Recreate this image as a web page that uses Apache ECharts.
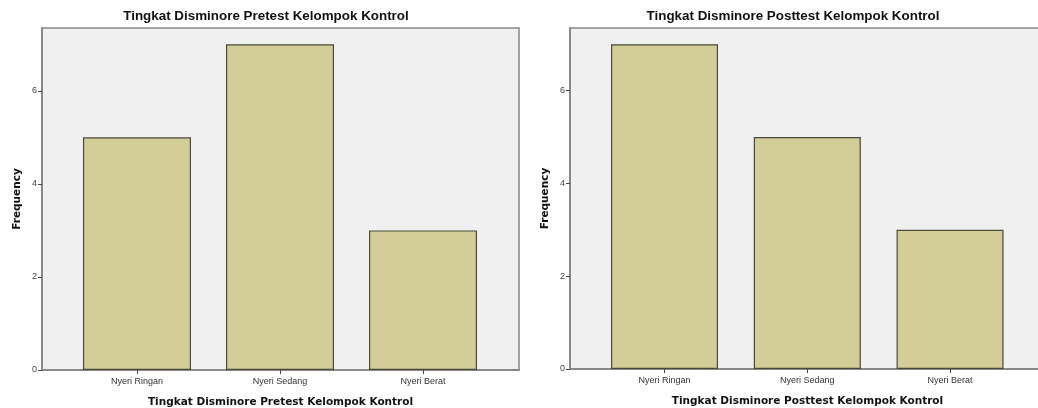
<!DOCTYPE html>
<html><head><meta charset="utf-8">
<script src="https://cdn.jsdelivr.net/npm/echarts@6/dist/echarts.min.js"></script>
<style>html,body{margin:0;padding:0;background:#fff}#c{width:1038px;height:408px}</style>
</head><body><div id="c"></div>
<script>
const categories = ["Nyeri Ringan", "Nyeri Sedang", "Nyeri Berat"];
const pretestValues = [5, 7, 3];
const posttestValues = [7, 5, 3];
const yTicks = [0, 2, 4, 6];
const titles = ["Tingkat Disminore Pretest Kelompok Kontrol", "Tingkat Disminore Posttest Kelompok Kontrol"];
const yTitle = "Frequency";

const chart = echarts.init(document.getElementById('c'), null, {renderer: 'canvas'});
const barColor = '#D3CE97';
const idx = categories.map((_, i) => i);

function xAxis(gi, min, max) {
  return {
    type: 'value', gridIndex: gi, min: min, max: max,
    name: titles[gi], nameLocation: 'middle', nameGap: 27,
    nameTextStyle: {fontFamily: 'DejaVu Sans', fontWeight: 'bold', fontSize: 10.5, color: '#111'},
    axisLine: {show: true, onZero: false, lineStyle: {color: '#888', width: 2}},
    axisTick: {show: true, customValues: idx, length: 4, lineStyle: {color: '#444'}},
    axisLabel: {customValues: idx, formatter: v => categories[Math.round(v)] || '', fontFamily: 'Liberation Sans', fontSize: 9, color: '#333', margin: 7},
    splitLine: {show: false}
  };
}
function yAxis(gi) {
  return {
    type: 'value', gridIndex: gi, min: 0, max: 7.35,
    name: yTitle, nameLocation: 'middle', nameGap: 19,
    nameTextStyle: {fontFamily: 'DejaVu Sans', fontWeight: 'bold', fontSize: 10.5, color: '#111'},
    axisLine: {show: true, onZero: false, lineStyle: {color: '#888', width: 2}},
    axisTick: {show: true, customValues: yTicks, length: 4, lineStyle: {color: '#444'}},
    axisLabel: {customValues: yTicks, fontFamily: 'Liberation Sans', fontSize: 9, color: '#444', margin: 5},
    splitLine: {show: false}
  };
}
function series(gi, vals, w) {
  return {
    type: 'bar', xAxisIndex: gi, yAxisIndex: gi, barWidth: w,
    data: vals.map((v, i) => [i, v]),
    itemStyle: {color: barColor, borderColor: '#4a4a3a', borderWidth: 1.2},
    silent: true
  };
}

chart.setOption({
  animation: false,
  title: [
    {text: titles[0], left: 261, top: 5, textAlign: 'center', textStyle: {fontFamily: 'Liberation Sans', fontWeight: 'bold', fontSize: 13.4, color: '#111'}},
    {text: titles[1], left: 788, top: 5, textAlign: 'center', textStyle: {fontFamily: 'Liberation Sans', fontWeight: 'bold', fontSize: 13.4, color: '#111'}}
  ],
  grid: [
    {left: 42, top: 28, width: 477, height: 342, outerBoundsMode: 'none', containLabel: false, show: true, backgroundColor: '#F0F0F0', borderColor: '#888', borderWidth: 1.5},
    {left: 570, top: 28, width: 475, height: 341, outerBoundsMode: 'none', containLabel: false, show: true, backgroundColor: '#F0F0F0', borderColor: '#888', borderWidth: 1.5}
  ],
  xAxis: [xAxis(0, -0.664, 2.671), xAxis(1, -0.662, 2.665)],
  yAxis: [yAxis(0), yAxis(1)],
  series: [series(0, pretestValues, 108), series(1, posttestValues, 107)]
});
</script></body></html>
